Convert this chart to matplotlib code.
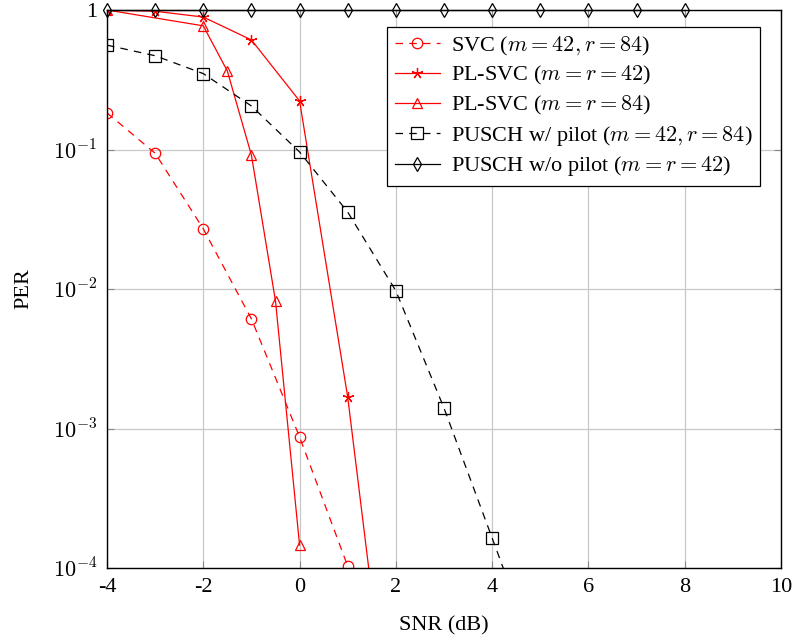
import matplotlib.pyplot as plt

plt.rcParams['font.family'] = ['Liberation Serif', 'DejaVu Serif']
plt.rcParams['mathtext.fontset'] = 'cm'

# data
snr_svc = [-4, -3, -2, -1, 0, 1]
per_svc = [0.183, 0.094, 0.027, 0.0061, 8.7e-4, 1.03e-4]

snr_pl42 = [-4, -3, -2, -1, 0, 1, 2]
per_pl42 = [1.0, 0.98, 0.89, 0.61, 0.223, 1.68e-3, 2.6e-6]

snr_pl84 = [-4, -2, -1.5, -1, -0.5, 0]
per_pl84 = [1.0, 0.77, 0.365, 0.091, 0.0082, 1.46e-4]

snr_pusch = [-4, -3, -2, -1, 0, 1, 2, 3, 4, 5]
per_pusch = [0.56, 0.47, 0.35, 0.205, 0.096, 0.0356, 0.0097, 1.4e-3, 1.64e-4, 1.9e-5]

snr_nopilot = [-4, -3, -2, -1, 0, 1, 2, 3, 4, 5, 6, 7, 8]
per_nopilot = [1.0] * 13

labels = [
    r'SVC ($m=42, r=84$)',
    r'PL-SVC ($m=r=42$)',
    r'PL-SVC ($m=r=84$)',
    r'PUSCH w/ pilot ($m=42, r=84$)',
    r'PUSCH w/o pilot ($m=r=42$)',
]

fig = plt.figure(figsize=(7.97, 6.44), dpi=100)
ax = fig.add_axes([107 / 797, 1 - 568 / 644, 674 / 797, 558 / 644])

dash = (0, (6, 5))
ax.plot(snr_svc, per_svc, color='red', ls=dash, lw=0.9, marker='o', ms=7.5,
        mfc='none', mew=0.9, label=labels[0])
ax.plot(snr_pl42, per_pl42, color='red', lw=0.9, marker=(5, 2, 0), ms=8,
        mfc='none', mew=0.9, label=labels[1])
ax.plot(snr_pl84, per_pl84, color='red', lw=0.9, marker='^', ms=7.5,
        mfc='none', mew=0.9, label=labels[2])
ax.plot(snr_pusch, per_pusch, color='black', ls=dash, lw=0.9, marker='s', ms=8.5,
        mfc='none', mew=0.9, label=labels[3])
ax.plot(snr_nopilot, per_nopilot, color='black', lw=0.9, marker='d', ms=7,
        mfc='none', mew=0.9, label=labels[4], clip_on=False)

ax.set_yscale('log')
ax.set_xlim(-4, 10)
ax.set_ylim(1e-4, 1)
ax.set_xticks([-4, -2, 0, 2, 4, 6, 8, 10])
ax.set_xticklabels(['-4', '-2', '0', '2', '4', '6', '8', '10'])
ax.set_yticks([1e-4, 1e-3, 1e-2, 1e-1, 1])
ax.set_yticklabels([r'$10^{-4}$', r'$10^{-3}$', r'$10^{-2}$', r'$10^{-1}$', '1'])
ax.minorticks_off()
ax.tick_params(direction='in', length=5, color='#888888', labelsize=16,
               top=True, right=True, pad=7)
ax.grid(True, color='#c8c8c8', lw=0.9)
for s in ax.spines.values():
    s.set_linewidth(1.0)

ax.set_xlabel('SNR (dB)', fontsize=16, labelpad=14)
ax.set_ylabel('PER', fontsize=16, labelpad=14)

leg = ax.legend(loc='upper right', bbox_to_anchor=(0.969, 0.97), fontsize=16,
                fancybox=False, edgecolor='black', framealpha=1,
                handlelength=2.0, borderpad=0.35, labelspacing=0.3,
                handletextpad=0.5, borderaxespad=0)
leg.get_frame().set_linewidth(0.9)

fig.savefig('out.png', dpi=100)
